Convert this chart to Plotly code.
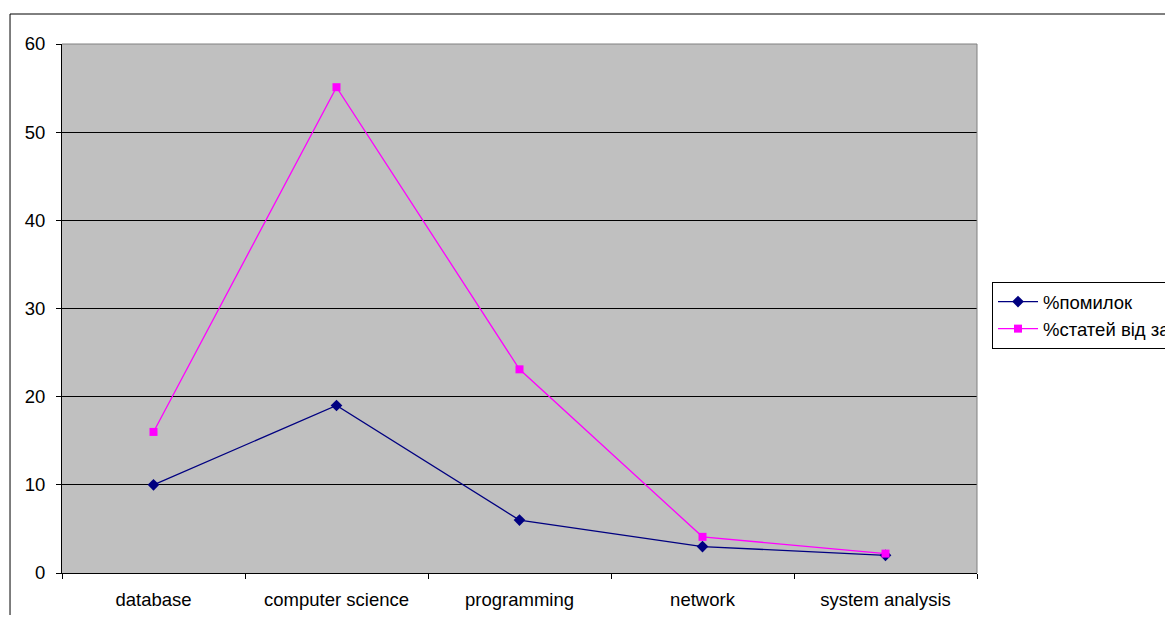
import plotly.graph_objects as go

categories = ["database", "computer science", "programming", "network", "system analysis"]
errors_pct = [10, 19, 6, 3, 2]
articles_pct = [16, 55.1, 23.1, 4.1, 2.2]
series_names = ["%помилок", "%статей від загальної кількості"]

fig = go.Figure()
fig.add_trace(go.Scatter(
    x=categories, y=errors_pct, name=series_names[0], mode="lines+markers",
    line=dict(color="#000080", width=1.3),
    marker=dict(symbol="diamond", size=9, color="#000080"),
))
fig.add_trace(go.Scatter(
    x=categories, y=articles_pct, name=series_names[1], mode="lines+markers",
    line=dict(color="#FF00FF", width=1.3),
    marker=dict(symbol="square", size=8, color="#FF00FF"),
))

FS = 18.5
fig.update_layout(
    width=1157, height=607,
    margin=dict(l=54, r=188, t=36, b=42, autoexpand=False),
    paper_bgcolor="white",
    plot_bgcolor="#C0C0C0",
    font=dict(family="Liberation Sans, Arial, sans-serif", size=FS, color="black"),
    showlegend=True,
    legend=dict(
        x=1.0164, y=0.55, xanchor="left", yanchor="top",
        bordercolor="black", borderwidth=1, bgcolor="white",
        font=dict(size=FS), tracegroupgap=0, itemwidth=40,
    ),
    xaxis=dict(
        type="category", range=[-0.5, 4.5], showgrid=False, ticks="outside",
        tickson="boundaries", ticklen=5, tickcolor="black", showline=True,
        linecolor="black", linewidth=1, mirror=False, tickfont=dict(size=FS),
        ticklabelstandoff=10,
    ),
    yaxis=dict(
        range=[0, 60], dtick=10, showgrid=True, gridcolor="black", gridwidth=1,
        ticks="outside", ticklen=5, tickcolor="black", showline=True,
        linecolor="black", linewidth=1, zeroline=False, tickfont=dict(size=FS),
        ticklabelstandoff=7,
    ),
    shapes=[
        dict(type="line", xref="paper", yref="paper", x0=0, x1=1, y0=1, y1=1,
             line=dict(color="#808080", width=1), layer="above"),
        dict(type="line", xref="paper", yref="paper", x0=1, x1=1, y0=0, y1=1,
             line=dict(color="#808080", width=1), layer="above"),
        dict(type="rect", xref="paper", yref="paper", x0=-0.0568, x1=1.3, y0=-0.2, y1=1.0567,
             line=dict(color="black", width=1), fillcolor="rgba(0,0,0,0)"),
    ],
)

fig.write_html("out.html")
